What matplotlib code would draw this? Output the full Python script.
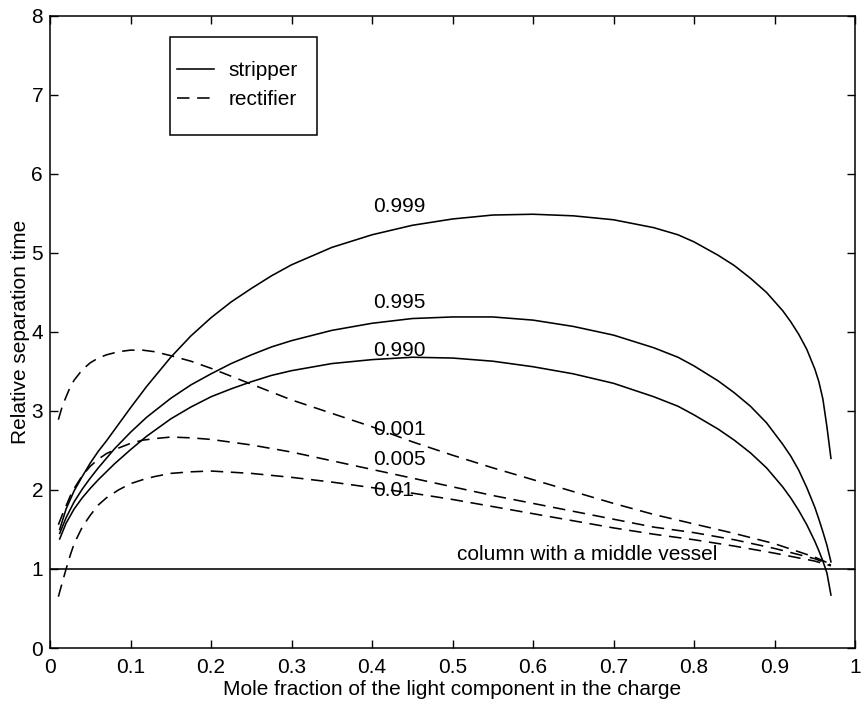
import matplotlib
matplotlib.use('Agg')
from matplotlib import pyplot as plt
from matplotlib.patches import Rectangle

plt.rcParams['font.family'] = ['Liberation Sans', 'DejaVu Sans']
plt.rcParams['font.size'] = 15
plt.rcParams['lines.scale_dashes'] = False

# stripper curves (solid), purity 0.999 / 0.995 / 0.990
x_strip = [0.012, 0.02, 0.03, 0.04, 0.05, 0.06, 0.07, 0.08, 0.10, 0.12, 0.15, 0.175,
           0.20, 0.225, 0.25, 0.275, 0.30, 0.35, 0.40, 0.45, 0.50, 0.55, 0.60, 0.65,
           0.70, 0.75, 0.78, 0.80, 0.83, 0.85, 0.87, 0.89, 0.91, 0.92, 0.93, 0.94,
           0.95, 0.955, 0.96, 0.965, 0.97]
y_999 = [1.50, 1.76, 1.99, 2.17, 2.34, 2.49, 2.62, 2.76, 3.04, 3.31, 3.68, 3.95,
         4.18, 4.38, 4.55, 4.71, 4.85, 5.07, 5.23, 5.35, 5.43, 5.48, 5.49, 5.47,
         5.42, 5.32, 5.23, 5.14, 4.97, 4.84, 4.68, 4.50, 4.27, 4.13, 3.97, 3.78,
         3.53, 3.37, 3.15, 2.80, 2.40]
y_995 = [1.45, 1.65, 1.85, 2.01, 2.15, 2.28, 2.40, 2.52, 2.73, 2.92, 3.16, 3.33,
         3.47, 3.60, 3.71, 3.81, 3.89, 4.02, 4.11, 4.17, 4.19, 4.19, 4.15, 4.07,
         3.96, 3.80, 3.68, 3.57, 3.38, 3.23, 3.06, 2.85, 2.58, 2.43, 2.25, 2.03,
         1.78, 1.63, 1.47, 1.30, 1.09]
y_990 = [1.38, 1.58, 1.76, 1.90, 2.02, 2.13, 2.23, 2.33, 2.51, 2.68, 2.90, 3.05,
         3.18, 3.28, 3.37, 3.45, 3.51, 3.60, 3.65, 3.68, 3.67, 3.63, 3.56, 3.47,
         3.35, 3.18, 3.06, 2.95, 2.77, 2.63, 2.47, 2.28, 2.04, 1.90, 1.74, 1.56,
         1.35, 1.23, 1.10, 0.95, 0.67]

# rectifier curves (dashed), purity 0.001 / 0.005 / 0.01
x_rect = [0.0104, 0.015, 0.02, 0.025, 0.03, 0.04, 0.05, 0.06, 0.07, 0.085, 0.10,
          0.115, 0.13, 0.15, 0.175, 0.20, 0.25, 0.30, 0.35, 0.40, 0.45, 0.50, 0.55,
          0.60, 0.65, 0.70, 0.75, 0.80, 0.85, 0.90, 0.95, 0.97]
y_001 = [2.89, 3.05, 3.18, 3.30, 3.39, 3.52, 3.61, 3.67, 3.71, 3.75, 3.77,
         3.77, 3.75, 3.70, 3.63, 3.54, 3.34, 3.14, 2.97, 2.80, 2.61, 2.44, 2.28,
         2.13, 1.98, 1.83, 1.69, 1.57, 1.45, 1.32, 1.15, 1.06]
y_005 = [1.56, 1.68, 1.80, 1.92, 2.02, 2.18, 2.30, 2.39, 2.46, 2.53, 2.59,
         2.63, 2.65, 2.67, 2.66, 2.64, 2.57, 2.48, 2.37, 2.26, 2.15, 2.04, 1.93,
         1.83, 1.73, 1.63, 1.53, 1.46, 1.37, 1.26, 1.13, 1.05]
y_01 = [0.65, 0.82, 1.00, 1.17, 1.32, 1.53, 1.68, 1.81, 1.90, 2.00, 2.08,
        2.13, 2.17, 2.21, 2.23, 2.24, 2.21, 2.16, 2.10, 2.03, 1.96, 1.88, 1.79,
        1.70, 1.61, 1.52, 1.44, 1.37, 1.29, 1.20, 1.10, 1.04]

middle_vessel = 1.0

curve_labels = ['0.999', '0.995', '0.990', '0.001', '0.005', '0.01']
label_y = [5.59, 4.37, 3.77, 2.77, 2.39, 1.99]

fig = plt.figure(figsize=(8.62, 7.11), dpi=100)
ax = fig.add_axes([0.058, 0.0886, 0.934, 0.889])

lw = 1.15
dash = (9, 5.5)
s1, = ax.plot(x_strip, y_999, color='black', lw=lw)
ax.plot(x_strip, y_995, color='black', lw=lw)
ax.plot(x_strip, y_990, color='black', lw=lw)
r1, = ax.plot(x_rect, y_001, color='black', lw=lw, dashes=dash)
ax.plot(x_rect, y_005, color='black', lw=lw, dashes=dash)
ax.plot(x_rect, y_01, color='black', lw=lw, dashes=dash)
ax.axhline(middle_vessel, color='black', lw=lw)

for lab, ly in zip(curve_labels, label_y):
    ax.text(0.401, ly, lab, ha='left', va='center', fontsize=15)
ax.text(0.667, 1.06, 'column with a middle vessel', ha='center', va='bottom', fontsize=15)

ax.set_xlim(0, 1)
ax.set_ylim(0, 8)
ax.set_xticks([0, 0.1, 0.2, 0.3, 0.4, 0.5, 0.6, 0.7, 0.8, 0.9, 1])
ax.set_xticklabels(['0', '0.1', '0.2', '0.3', '0.4', '0.5', '0.6', '0.7', '0.8', '0.9', '1'])
ax.set_yticks(range(0, 9))
ax.tick_params(direction='in', length=5.8, width=1.0, top=True, right=True)
ax.tick_params(axis='x', pad=7)
ax.tick_params(axis='y', pad=5)
for sp in ax.spines.values():
    sp.set_linewidth(1.1)

ax.set_xlabel('Mole fraction of the light component in the charge', labelpad=2)
ax.set_ylabel('Relative separation time', labelpad=1)

# legend (MATLAB style box)
ax.legend([s1, r1], ['stripper', 'rectifier'], loc='upper left',
          bbox_to_anchor=(0.158, 0.929), borderaxespad=0, borderpad=0,
          frameon=False, handlelength=1.75, handletextpad=0.7, labelspacing=0.5,
          fontsize=15)
ax.add_patch(Rectangle((0.149, 0.812), 0.183, 0.155, transform=ax.transAxes,
                       fill=False, edgecolor='black', lw=1.1, zorder=5))

fig.savefig('out.png', dpi=100)
